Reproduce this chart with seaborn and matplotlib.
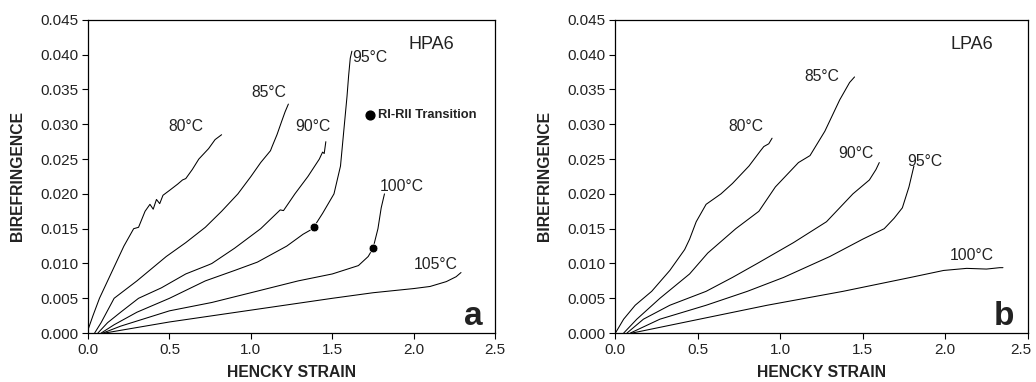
import numpy as np
import pandas as pd
import matplotlib
matplotlib.use('Agg')
import matplotlib.pyplot as plt
import matplotlib.transforms as mtransforms
import seaborn as sns

# ---- HPA6 (panel a) : hencky strain / birefringence ----
hpa_80_x = [0.0, 0.03, 0.07, 0.13, 0.16, 0.22, 0.28, 0.31, 0.35, 0.38, 0.40, 0.42, 0.44, 0.46, 0.50, 0.55, 0.58, 0.60, 0.64, 0.68, 0.74, 0.78, 0.82]
hpa_80_y = [0.0005, 0.0025, 0.0050, 0.0080, 0.0095, 0.0125, 0.0150, 0.0152, 0.0175, 0.0185, 0.0178, 0.0192, 0.0186, 0.0198, 0.0205, 0.0214, 0.0220, 0.0222, 0.0235, 0.0250, 0.0265, 0.0278, 0.0285]

hpa_85_x = [0.04, 0.08, 0.16, 0.30, 0.48, 0.60, 0.72, 0.82, 0.92, 1.00, 1.06, 1.12, 1.13, 1.16, 1.19, 1.21, 1.23]
hpa_85_y = [0.0, 0.0015, 0.0050, 0.0075, 0.0110, 0.0130, 0.0152, 0.0175, 0.0200, 0.0225, 0.0245, 0.0262, 0.0268, 0.0285, 0.0305, 0.0318, 0.0329]

hpa_90_x = [0.06, 0.12, 0.20, 0.31, 0.45, 0.60, 0.74, 0.76, 0.90, 1.06, 1.18, 1.20, 1.27, 1.35, 1.42, 1.44, 1.45, 1.46]
hpa_90_y = [0.0, 0.0015, 0.0030, 0.0050, 0.0065, 0.0085, 0.0098, 0.0100, 0.0122, 0.0150, 0.0177, 0.0176, 0.0200, 0.0225, 0.0250, 0.0260, 0.0258, 0.0275]

hpa_95_x = [0.08, 0.16, 0.30, 0.50, 0.72, 0.90, 1.04, 1.22, 1.32, 1.38, 1.44, 1.51, 1.55, 1.57, 1.59, 1.60, 1.61, 1.62]
hpa_95_y = [0.0, 0.0012, 0.0030, 0.0050, 0.0075, 0.0090, 0.0102, 0.0125, 0.0142, 0.0150, 0.0172, 0.0200, 0.0240, 0.0290, 0.0340, 0.0370, 0.0395, 0.0405]

hpa_100_x = [0.09, 0.20, 0.50, 0.76, 1.00, 1.29, 1.50, 1.66, 1.72, 1.75, 1.78, 1.80, 1.82]
hpa_100_y = [0.0, 0.0010, 0.0032, 0.0044, 0.0058, 0.0075, 0.0085, 0.0097, 0.0110, 0.0122, 0.0150, 0.0180, 0.0200]

hpa_105_x = [0.10, 0.30, 0.50, 1.00, 1.50, 1.75, 2.00, 2.10, 2.20, 2.26, 2.29]
hpa_105_y = [0.0, 0.0008, 0.0016, 0.0033, 0.0050, 0.0058, 0.0064, 0.0067, 0.0074, 0.0081, 0.0087]

# RI-RII transition points
hpa_trans_x = [1.39, 1.75]
hpa_trans_y = [0.0152, 0.0122]

# ---- LPA6 (panel b) ----
lpa_80_x = [0.0, 0.05, 0.12, 0.22, 0.33, 0.42, 0.45, 0.49, 0.55, 0.64, 0.71, 0.81, 0.88, 0.90, 0.93, 0.95]
lpa_80_y = [0.0, 0.0020, 0.0040, 0.0060, 0.0090, 0.0120, 0.0135, 0.0160, 0.0185, 0.0200, 0.0215, 0.0240, 0.0262, 0.0268, 0.0272, 0.0280]

lpa_85_x = [0.05, 0.13, 0.27, 0.45, 0.56, 0.73, 0.87, 0.97, 1.11, 1.18, 1.27, 1.36, 1.42, 1.45]
lpa_85_y = [0.0, 0.0020, 0.0050, 0.0085, 0.0115, 0.0150, 0.0175, 0.0210, 0.0245, 0.0255, 0.0290, 0.0335, 0.0360, 0.0368]

lpa_90_x = [0.07, 0.17, 0.33, 0.55, 0.71, 0.86, 1.08, 1.28, 1.44, 1.54, 1.58, 1.60]
lpa_90_y = [0.0, 0.0020, 0.0040, 0.0060, 0.0080, 0.0100, 0.0130, 0.0160, 0.0200, 0.0220, 0.0235, 0.0245]

lpa_95_x = [0.09, 0.27, 0.55, 0.80, 1.02, 1.30, 1.50, 1.63, 1.69, 1.74, 1.78, 1.81]
lpa_95_y = [0.0, 0.0020, 0.0040, 0.0060, 0.0080, 0.0110, 0.0135, 0.0150, 0.0165, 0.0180, 0.0210, 0.0240]

lpa_100_x = [0.10, 0.51, 0.92, 1.38, 1.79, 1.99, 2.13, 2.25, 2.33, 2.35]
lpa_100_y = [0.0, 0.0020, 0.0040, 0.0060, 0.0080, 0.0090, 0.0093, 0.0092, 0.0094, 0.0094]

hpa_curves = {'80°C': (hpa_80_x, hpa_80_y), '85°C': (hpa_85_x, hpa_85_y),
              '90°C': (hpa_90_x, hpa_90_y), '95°C': (hpa_95_x, hpa_95_y),
              '100°C': (hpa_100_x, hpa_100_y), '105°C': (hpa_105_x, hpa_105_y)}
lpa_curves = {'80°C': (lpa_80_x, lpa_80_y), '85°C': (lpa_85_x, lpa_85_y),
              '90°C': (lpa_90_x, lpa_90_y), '95°C': (lpa_95_x, lpa_95_y),
              '100°C': (lpa_100_x, lpa_100_y)}

# label anchors (x, y, ha)
hpa_labels = {'80°C': (0.60, 0.0297, 'center'), '85°C': (1.11, 0.0345, 'center'),
              '90°C': (1.38, 0.0297, 'center'), '95°C': (1.62, 0.0396, 'left'),
              '100°C': (1.79, 0.0210, 'left'), '105°C': (2.00, 0.0099, 'left')}
lpa_labels = {'80°C': (0.79, 0.0297, 'center'), '85°C': (1.25, 0.0369, 'center'),
              '90°C': (1.46, 0.0258, 'center'), '95°C': (1.875, 0.0247, 'center'),
              '100°C': (2.16, 0.0112, 'center')}

TXT = '#222222'


def to_long(curves):
    rows = []
    for name, (xs, ys) in curves.items():
        for x, y in zip(xs, ys):
            rows.append({'strain': x, 'biref': y, 'temp': name})
    return pd.DataFrame(rows)


sns.set_style('ticks')
plt.rcParams['font.family'] = ['Liberation Sans', 'DejaVu Sans']

fig = plt.figure(figsize=(10.36, 3.82), dpi=100)
ax1 = fig.add_axes([0.085, 0.128, 0.393, 0.82])
ax2 = fig.add_axes([0.594, 0.128, 0.398, 0.82])


def style_axis(ax, curves, labels, tag, tag_x, letter):
    df = to_long(curves)
    sns.lineplot(data=df, x='strain', y='biref', units='temp', estimator=None,
                 sort=False, color='black', linewidth=0.75, ax=ax)
    for name, (x, y, ha) in labels.items():
        ax.text(x, y, name, ha=ha, va='center', fontsize=11.3, color=TXT)
    ax.text(tag_x, 0.0414, tag, ha='center', va='center', fontsize=13, color=TXT)
    ax.text(2.42, 0.0002, letter, ha='right', va='bottom', fontsize=24,
            fontweight='bold', color=TXT)
    ax.set_xlim(0, 2.5)
    ax.set_ylim(0, 0.045)
    xt = np.arange(0, 2.51, 0.5)
    yt = np.arange(0, 0.0451, 0.005)
    ax.set_xticks(xt)
    ax.set_yticks(yt)
    ax.set_xticklabels(['%.1f' % v for v in xt])
    ax.set_yticklabels(['%.3f' % v for v in yt])
    ax.tick_params(direction='out', length=4, width=0.8, labelsize=11,
                   colors='black', labelcolor=TXT, pad=3)
    ax.set_xlabel('HENCKY STRAIN', fontsize=11.3, fontweight='bold', color=TXT, labelpad=6)
    ax.set_ylabel('BIREFRINGENCE', fontsize=11.3, fontweight='bold', color=TXT, labelpad=11)
    for s in ax.spines.values():
        s.set_visible(True)
        s.set_linewidth(0.9)
        s.set_color('black')


style_axis(ax1, hpa_curves, hpa_labels, 'HPA6', 2.11, 'a')
sns.scatterplot(x=hpa_trans_x, y=hpa_trans_y, color='black', s=40, ax=ax1, zorder=5)
ax1.scatter([1.73], [0.0313], color='black', s=40, zorder=5)
ax1.text(1.78, 0.0313, 'RI-RII Transition', ha='left', va='center', fontsize=9.3,
         fontweight='bold', color=TXT)

style_axis(ax2, lpa_curves, lpa_labels, 'LPA6', 2.16, 'b')

# last tick label on the right panel sits a little left of its tick, as in the source
last = ax2.get_xticklabels()[-1]
last.set_transform(last.get_transform() + mtransforms.ScaledTranslation(-5 / 72, 0, fig.dpi_scale_trans))

fig.savefig('out.png', dpi=100)
